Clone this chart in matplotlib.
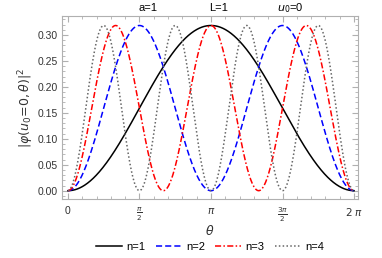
import numpy as np
import matplotlib
matplotlib.use("Agg")
import matplotlib.pyplot as plt
from matplotlib.ticker import MultipleLocator, FixedLocator

plt.rcParams['font.family'] = ['Liberation Sans', 'DejaVu Sans']
plt.rcParams['mathtext.fontset'] = 'dejavusans'

# data: modes n, amplitude (peak ~0.318 = 1/pi)
modes = [1, 2, 3, 4]
amplitude = 1 / np.pi
theta = np.linspace(0, 2 * np.pi, 600)
colors = ['black', '#0000ff', '#ff0000', '#666666']
styles = ['-', (0, (4, 2)), (0, (4, 1.5, 1, 1.5)), (0, (1, 1.5))]
labels = ['n=1', 'n=2', 'n=3', 'n=4']
xtick_vals = [0, np.pi / 2, np.pi, 3 * np.pi / 2, 2 * np.pi]
xtick_labels = ['0', r'$\frac{\pi}{2}$', r'$\pi$', r'$\frac{3\pi}{2}$', r'$2\ \pi$']
ytick_vals = [0.00, 0.05, 0.10, 0.15, 0.20, 0.25, 0.30]

fig = plt.figure(figsize=(3.82, 2.58), dpi=100)
ax = fig.add_axes([62 / 382, 1 - 199 / 258, 296 / 382, 183 / 258])

for n, c, ls, lab in zip(modes, colors, styles, labels):
    ax.plot(theta, amplitude * np.sin(n * theta / 2) ** 2, color=c, ls=ls, lw=1.1, label=lab)

ax.set_xlim(-0.13, 6.37)
ax.set_ylim(-0.016, 0.3366)
ax.xaxis.set_major_locator(FixedLocator(xtick_vals))
ax.set_xticklabels(xtick_labels)
ax.set_yticks(ytick_vals)
ax.set_yticklabels([f'{v:.2f}' for v in ytick_vals])
ax.yaxis.set_minor_locator(MultipleLocator(0.01))
ax.xaxis.set_minor_locator(MultipleLocator(np.pi / 10))

for s in ax.spines.values():
    s.set_color('#b0b0b0')
    s.set_linewidth(0.8)
ax.tick_params(which='both', direction='in', color='#b0b0b0', labelsize=7.5, labelcolor='#333333',
               top=True, right=True, labeltop=False, labelright=False)
ax.tick_params(which='major', length=4)
ax.tick_params(which='minor', length=2)
ax.tick_params(axis='x', which='major', pad=5)
ax.tick_params(axis='y', which='major', pad=3)

ax.set_xlabel(r'$\theta$', fontsize=9, color='#333333', labelpad=0)
ax.set_ylabel(r'$|\varphi(u_0\!=\!0,\theta)|^2$', fontsize=9, color='#333333', labelpad=1)

fig.text(148 / 382, 1 - 8 / 258, 'a=1', ha='center', va='center', fontsize=8)
fig.text(219 / 382, 1 - 8 / 258, 'L=1', ha='center', va='center', fontsize=8)
fig.text(290 / 382, 1 - 8 / 258, r'$u_0$=0', ha='center', va='center', fontsize=8)

fig.legend(loc='center', bbox_to_anchor=(210 / 382, 1 - 247 / 258), ncol=4, frameon=False,
           fontsize=8, handlelength=2.35, columnspacing=0.9, handletextpad=0.4,
           borderpad=0, borderaxespad=0)

fig.savefig('out.png', dpi=100)
